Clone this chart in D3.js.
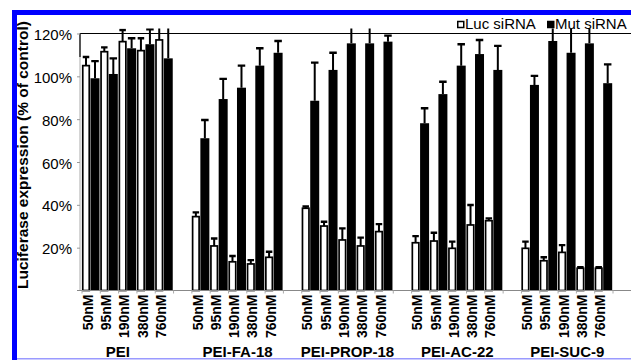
<!DOCTYPE html>
<html>
<head>
<meta charset="utf-8">
<script src="https://cdn.jsdelivr.net/npm/d3@7"></script>
<style>
  html, body { margin: 0; padding: 0; background: #fff; }
  svg { display: block; }
  text { font-family: "Liberation Sans", Arial, sans-serif; }
</style>
</head>
<body>
<script>
// Luciferase knockdown by polymer/siRNA complexes, % of untreated control
const groups = ["PEI", "PEI-FA-18", "PEI-PROP-18", "PEI-AC-22", "PEI-SUC-9"];
const concentrations = ["50nM", "95nM", "190nM", "380nM", "760nM"];
const seriesNames = ["Luc siRNA", "Mut siRNA"];

// mean expression per group (rows) and concentration (columns)
const lucMean = [
  [105.0, 111.5, 116.2, 112.0, 117.0],
  [34.5, 20.8, 13.4, 12.4, 15.5],
  [38.4, 30.1, 23.6, 20.8, 27.5],
  [22.3, 23.1, 19.7, 30.6, 32.6],
  [19.7, 13.9, 17.8, 10.4, 10.4]
];
const lucErr = [
  [4.0, 2.0, 5.4, 5.8, 7.0],
  [2.0, 3.5, 2.7, 1.8, 2.6],
  [0.8, 2.0, 5.4, 3.9, 3.5],
  [3.1, 3.9, 3.1, 9.3, 1.1],
  [3.1, 1.6, 3.4, 0.5, 0.5]
];
const mutMean = [
  [99.1, 101.1, 113.1, 115.0, 108.4],
  [71.1, 89.4, 94.7, 105.0, 111.0],
  [88.6, 103.0, 115.4, 115.4, 116.2],
  [78.1, 91.7, 105.0, 110.4, 103.0],
  [96.0, 116.5, 111.0, 115.4, 96.8]
];
const mutErr = [
  [8.0, 7.3, 4.7, 7.0, 16.0],
  [8.5, 9.4, 10.3, 8.1, 5.5],
  [17.8, 8.0, 9.0, 9.0, 2.8],
  [7.0, 5.8, 10.0, 6.6, 11.2],
  [4.2, 8.0, 12.0, 8.0, 8.8]
];
const yTicks = [20, 40, 60, 80, 100, 120];

const W = 631, H = 360;
const svg = d3.select("body").append("svg")
  .attr("width", W).attr("height", H)
  .style("background", "#fff");

// inner panel region (inside the blue frame)
const frame = { left: 17, top: 15, right: W, bottom: 358 };
svg.append("defs").append("clipPath").attr("id", "panel")
  .append("rect")
  .attr("x", frame.left).attr("y", frame.top)
  .attr("width", frame.right - frame.left).attr("height", frame.bottom - frame.top);

const g = svg.append("g").attr("clip-path", "url(#panel)");

// one slot per concentration, one empty slot between groups
const slots = [];
groups.forEach((grp, gi) => {
  concentrations.forEach((c, ci) => {
    slots.push({ gi, ci, group: grp, conc: c, slot: gi * 6 + ci,
      luc: lucMean[gi][ci], lucE: lucErr[gi][ci],
      mut: mutMean[gi][ci], mutE: mutErr[gi][ci] });
  });
});
const nSlots = groups.length * 6 - 1;

const x = d3.scaleBand().domain(d3.range(nSlots)).range([82, 613]).padding(0);
const y = d3.scaleLinear().domain([0, 120]).range([290.5, 33.5]);
const bw = x.bandwidth();

// plot frame: top edge at 120%
const plotLeft = 80;
g.append("line").attr("x1", plotLeft).attr("x2", W)
  .attr("y1", y(120)).attr("y2", y(120))
  .attr("stroke", "#000").attr("stroke-width", 1.2);

// y axis
g.append("line").attr("x1", plotLeft).attr("x2", plotLeft)
  .attr("y1", y(120)).attr("y2", y(0))
  .attr("stroke", "#aaa").attr("stroke-width", 1);
g.append("line").attr("x1", plotLeft).attr("x2", plotLeft)
  .attr("y1", y(120)).attr("y2", y(109))
  .attr("stroke", "#000").attr("stroke-width", 1.2);

const yAxis = d3.axisLeft(y).tickValues(yTicks)
  .tickFormat(d => d + "%").tickSize(3).tickPadding(5);
const ya = g.append("g").attr("transform", `translate(${plotLeft},0)`).call(yAxis);
ya.select(".domain").remove();
ya.selectAll(".tick line").attr("stroke", "#999");
ya.selectAll(".tick text")
  .attr("font-family", "Liberation Sans, Arial, sans-serif")
  .attr("font-size", 15).attr("fill", "#000").attr("dy", "0.4em");

// bars: open Luc siRNA bar and filled Mut siRNA bar in each slot
const lucX0 = 0.75, lucW = 6.5, mutX0 = 8.5, mutW = 9;

const pair = g.append("g").selectAll("g").data(slots).join("g")
  .attr("transform", d => `translate(${x(d.slot)},0)`);

pair.append("rect")
  .attr("x", lucX0).attr("width", lucW)
  .attr("y", d => y(d.luc)).attr("height", d => y(0) - y(d.luc))
  .attr("fill", "#fff").attr("stroke", "#000").attr("stroke-width", 1.7);

pair.append("rect")
  .attr("x", mutX0).attr("width", mutW)
  .attr("y", d => y(d.mut)).attr("height", d => y(0) - y(d.mut))
  .attr("fill", "#000");

// error bars (upper side only), clipped a little above the 120% line
svg.select("defs").append("clipPath").attr("id", "errclip")
  .append("rect").attr("x", 0).attr("width", W)
  .attr("y", y(122.3)).attr("height", y(0) - y(122.3));

const eb = g.append("g").attr("clip-path", "url(#errclip)");
const ebs = eb.selectAll("g").data(slots).join("g")
  .attr("transform", d => `translate(${x(d.slot)},0)`);

function errorBar(sel, cx, val, err, capW) {
  sel.append("line")
    .attr("x1", cx).attr("x2", cx)
    .attr("y1", d => y(val(d))).attr("y2", d => y(val(d) + err(d)))
    .attr("stroke", "#000").attr("stroke-width", 2);
  sel.append("line")
    .attr("x1", cx - capW / 2).attr("x2", cx + capW / 2)
    .attr("y1", d => y(val(d) + err(d))).attr("y2", d => y(val(d) + err(d)))
    .attr("stroke", "#000").attr("stroke-width", 2.4);
}
errorBar(ebs, lucX0 + lucW / 2, d => d.luc, d => d.lucE, 6.5);
errorBar(ebs, mutX0 + mutW / 2, d => d.mut, d => d.mutE, 7.5);

// x axis baseline and slot ticks
g.append("line").attr("x1", 77).attr("x2", W)
  .attr("y1", y(0)).attr("y2", y(0))
  .attr("stroke", "#888").attr("stroke-width", 1.2);
g.append("g").selectAll("line").data(d3.range(nSlots + 1)).join("line")
  .attr("x1", i => 82 + i * bw).attr("x2", i => 82 + i * bw)
  .attr("y1", y(0)).attr("y2", y(0) + 3)
  .attr("stroke", "#aaa").attr("stroke-width", 1);

// concentration labels, rotated
g.append("g").selectAll("text").data(slots).join("text")
  .attr("transform", d => `translate(${x(d.slot) + bw / 2 + 1.5},${y(0) + 4}) rotate(-90)`)
  .attr("text-anchor", "end")
  .attr("font-size", 14).attr("font-weight", "bold")
  .text(d => d.conc);

// group labels
g.append("g").selectAll("text").data(groups).join("text")
  .attr("x", (d, i) => x(i * 6) + (x(i * 6 + 4) + bw - x(i * 6)) / 2 - (i === 0 ? 10 : 0))
  .attr("y", 356.5)
  .attr("text-anchor", "middle")
  .attr("font-size", 15).attr("font-weight", "bold")
  .text(d => d);

// y axis title
g.append("text")
  .attr("transform", `translate(28,289) rotate(-90)`)
  .attr("text-anchor", "start")
  .attr("font-size", 15.5).attr("font-weight", "bold")
  .text("Luciferase expression (% of control)");

// legend
const legend = g.append("g").attr("transform", "translate(457,29)");
const items = [
  { name: seriesNames[0], fill: "#fff", dx: 0 },
  { name: seriesNames[1], fill: "#000", dx: 90 }
];
const li = legend.selectAll("g").data(items).join("g")
  .attr("transform", d => `translate(${d.dx},0)`);
li.append("rect").attr("x", 0.75).attr("y", -7.5).attr("width", 6).attr("height", 6)
  .attr("fill", d => d.fill).attr("stroke", "#000").attr("stroke-width", 1.5);
li.append("text").attr("x", 8).attr("y", 0)
  .attr("font-size", 15).text(d => d.name);

// blue frame around the panel
svg.append("rect").attr("x", 12).attr("y", 10).attr("width", W - 12).attr("height", 5).attr("fill", "#0000ff");
svg.append("rect").attr("x", 12).attr("y", 10).attr("width", 5).attr("height", H - 10).attr("fill", "#0000ff");
svg.append("rect").attr("x", 17).attr("y", 358).attr("width", W - 17).attr("height", 1.5).attr("fill", "#9a9aff");
</script>
</body>
</html>
